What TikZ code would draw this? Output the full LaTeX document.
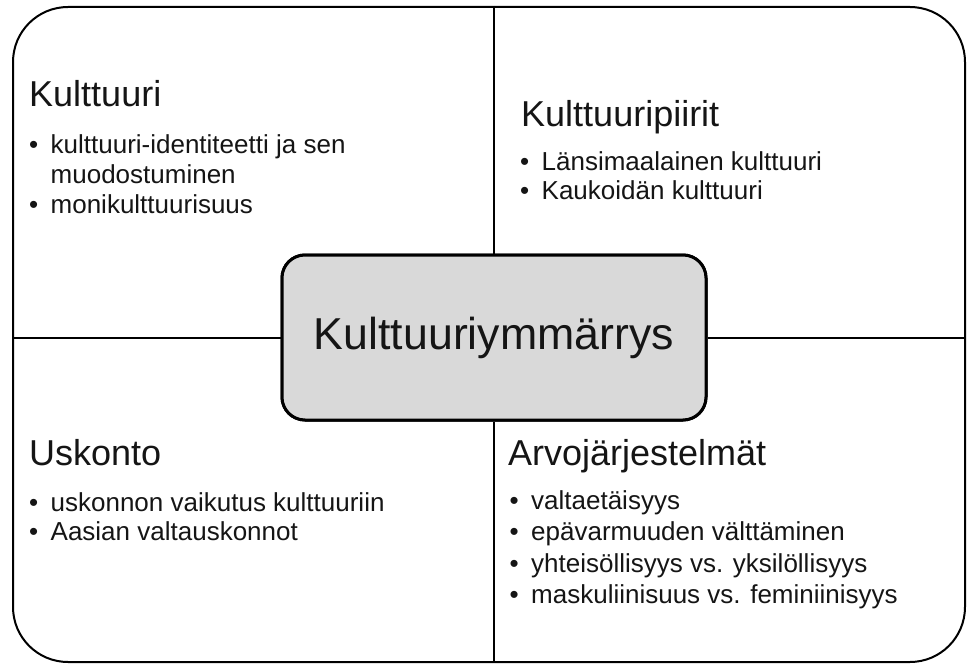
\documentclass[tikz,border=0pt]{standalone}
\usepackage{fontspec}
\setmainfont{Liberation Sans}
\definecolor{hubgray}{HTML}{D9D9D9}
\definecolor{inkc}{HTML}{151515}
\newcommand\itembullet{\makebox[21.5pt][l]{•}}
\begin{document}
\begin{tikzpicture}[x=1pt,y=-1pt,
  frame/.style={draw=black, line width=2pt, rounded corners=55pt, minimum width=952pt, minimum height=655pt, inner sep=0pt},
  hub/.style={draw=black, line width=3pt, fill=hubgray, rounded corners=23pt, minimum width=424pt, minimum height=165pt, inner sep=0pt, text=inkc, font=\fontsize{44.7}{50}\selectfont},
  divider/.style={draw=black, line width=2pt},
  heading/.style={anchor=base west, inner sep=0pt, text=inkc, font=\fontsize{36}{40}\selectfont},
  item/.style={anchor=base west, inner sep=0pt, text=inkc, align=left, font=\fontsize{26}{28}\selectfont},
]
\useasboundingbox[fill=white] (0,0) rectangle (967,666);
\node[frame] (frame) at (489,334.5) {};
\node[hub] (hub) at (494,337.5) {};
\draw[divider] (frame.north -| hub.north) -- (hub.north);
\draw[divider] (hub.south) -- (frame.south -| hub.south);
\draw[divider] (frame.west |- hub.west) -- (hub.west);
\draw[divider] (hub.east) -- (frame.east |- hub.east);
\node[hub] (hubtext) at (494,337.5) {Kulttuuriymmärrys};

% Kulttuuri
\node[heading] (h1) at (29,107) {Kulttuuri};
\node[item] (a1) at (29,183) {\itembullet kulttuuri-identiteetti ja sen\\[1.5pt]\hspace*{21.5pt}muodostuminen};
\node[item] (a2) at (29,213) {\itembullet monikulttuurisuus};

% Kulttuuripiirit
\node[heading] (h2) at (521,127) {Kulttuuripiirit};
\node[item] (b1) at (520,171) {\itembullet Länsimaalainen kulttuuri};
\node[item] (b2) at (520,200) {\itembullet Kaukoidän kulttuuri};

% Uskonto
\node[heading] (h3) at (29,465) {Uskonto};
\node[item] (c1) at (29,511) {\itembullet uskonnon vaikutus kulttuuriin};
\node[item] (c2) at (29,540) {\itembullet Aasian valtauskonnot};

% Arvojärjestelmät
\node[heading] (h4) at (508,465) {Arvojärjestelmät};
\node[item] (d1) at (509.5,509) {\itembullet valtaetäisyys};
\node[item] (d2) at (509.5,540) {\itembullet epävarmuuden välttäminen};
\node[item] (d3) at (509.5,572) {\itembullet yhteisöllisyys vs. yksilöllisyys};
\node[item] (d4) at (509.5,603) {\itembullet maskuliinisuus vs. feminiinisyys};
\end{tikzpicture}
\end{document}
